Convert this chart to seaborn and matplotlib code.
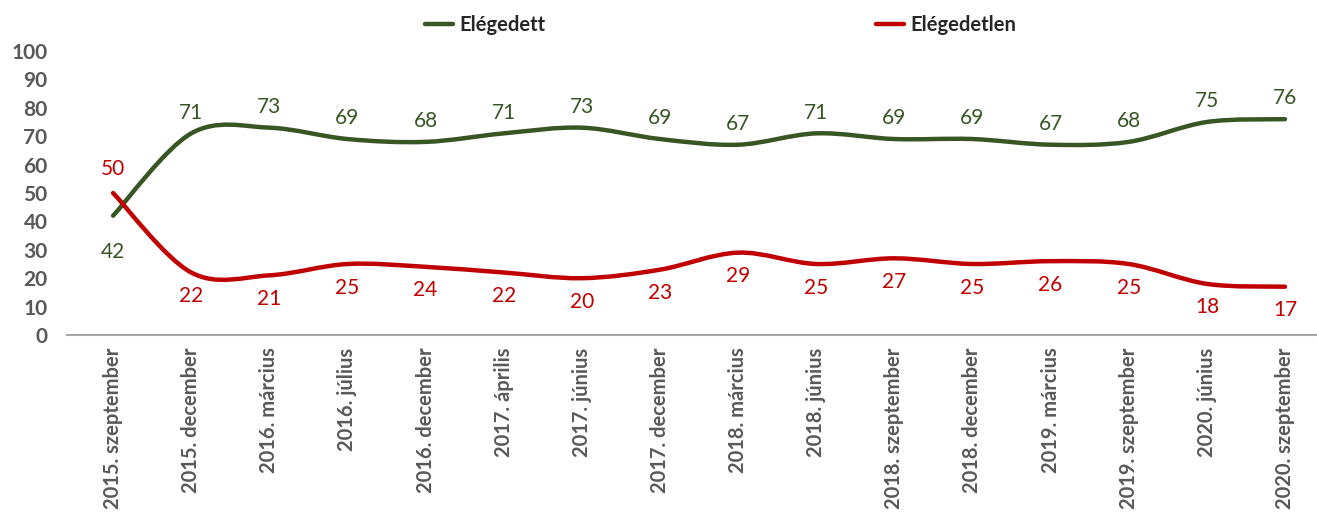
import matplotlib.pyplot as plt
import seaborn as sns
import numpy as np
from matplotlib.path import Path
from matplotlib.patches import PathPatch
from matplotlib.lines import Line2D

categories = ["2015. szeptember", "2015. december", "2016. március", "2016. július",
              "2016. december", "2017. április", "2017. június", "2017. december",
              "2018. március", "2018. június", "2018. szeptember", "2018. december",
              "2019. március", "2019. szeptember", "2020. június", "2020. szeptember"]
elegedett = [42, 71, 73, 69, 68, 71, 73, 69, 67, 71, 69, 69, 67, 68, 75, 76]
elegedetlen = [50, 22, 21, 25, 24, 22, 20, 23, 29, 25, 27, 25, 26, 25, 18, 17]

green = "#375623"
red = "#C00000"
gray = "#595959"

sns.set_theme(style="white")
plt.rcParams['font.family'] = ['Lato', 'DejaVu Sans']


def smooth_path(xs, ys):
    # Excel-like smoothed line: Catmull-Rom as cubic Bezier segments
    pts = np.column_stack([xs, ys]).astype(float)
    ext = np.vstack([pts[0], pts, pts[-1]])
    verts = [pts[0]]
    codes = [Path.MOVETO]
    for i in range(len(pts) - 1):
        p0, p1, p2, p3 = ext[i], ext[i + 1], ext[i + 2], ext[i + 3]
        c1 = p1 + (p2 - p0) / 6
        c2 = p2 - (p3 - p1) / 6
        verts += [c1, c2, p2]
        codes += [Path.CURVE4] * 3
    return Path(verts, codes)


fig = plt.figure(figsize=(13.17, 5.20), dpi=100)
ax = fig.add_axes([67 / 1317, 1 - 335 / 520, 1 - 67 / 1317, (335 - 51) / 520])

x = np.arange(len(categories))
for vals, col in [(elegedett, green), (elegedetlen, red)]:
    ax.add_patch(PathPatch(smooth_path(x, vals), facecolor="none", edgecolor=col,
                           lw=3.2, capstyle="round", joinstyle="round"))

for i in range(len(categories)):
    g, r = elegedett[i], elegedetlen[i]
    if g >= r:
        g_off, r_off = 15, -17
    else:
        g_off, r_off = -26, 17
    ax.annotate(str(g), (i, g), xytext=(0, g_off), textcoords="offset points",
                ha="center", va="center", color=green, fontsize=15)
    ax.annotate(str(r), (i, r), xytext=(0, r_off), textcoords="offset points",
                ha="center", va="center", color=red, fontsize=15)

ax.set_xlim(-0.59, 15.41)
ax.set_ylim(0, 100)
ax.set_yticks(range(0, 101, 10))
ax.set_xticks(x)
ax.set_xticklabels(categories, rotation=90, fontsize=14.5, fontweight="bold", color=gray)
ax.tick_params(axis="y", labelsize=15, labelcolor=gray, length=0, pad=14)
ax.tick_params(axis="x", length=0, pad=9)
for lab in ax.get_yticklabels():
    lab.set_fontweight("bold")

for s in ["top", "right", "left"]:
    ax.spines[s].set_visible(False)
ax.spines["bottom"].set_color("#A6A6A6")
ax.spines["bottom"].set_linewidth(1.5)
ax.grid(False)

handles = [Line2D([], [], color=green, lw=3.2), Line2D([], [], color=red, lw=3.2)]
fig.legend(handles, ["Elégedett", "Elégedetlen"], loc="center", bbox_to_anchor=(0.547, 0.952),
           ncol=2, frameon=False, columnspacing=16.4, handlelength=1.4, handletextpad=0.3,
           prop={"weight": "bold", "size": 14.5})

fig.savefig("out.png", dpi=100)
